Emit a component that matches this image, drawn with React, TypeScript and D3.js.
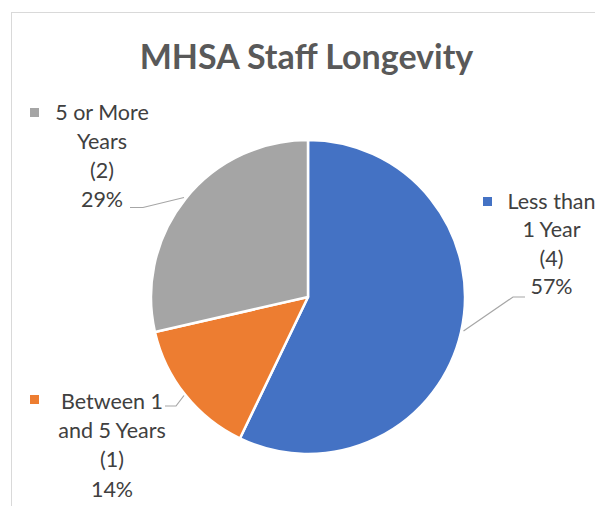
import React from "react";
import * as d3 from "d3";

const categories = ["Less than 1 Year", "Between 1 and 5 Years", "5 or More Years"];
const values = [4, 1, 2];
const labelLines = [["Less than", "1 Year"], ["Between 1", "and 5 Years"], ["5 or More", "Years"]];
const colors = ["#4472C4", "#ED7D31", "#A5A5A5"];
const title = "MHSA Staff Longevity";

const W = 595, H = 506;
const cx = 308, cy = 297, R = 157;
// label layout: center x, first baseline y, line height, marker box, leader points
const labelLayout = [
  { x: 551.5, y: 209, lh: 28.4, mx: 483, my: 197, leader: [[525, 297], [513, 297], [463.5, 331]] },
  { x: 112, y: 408.5, lh: 29.4, mx: 30, my: 395, leader: [[165, 406], [176, 406], [184, 395.5]] },
  { x: 102, y: 120, lh: 29, mx: 30, my: 108, leader: [[130, 207.5], [143, 207.5], [184, 197.5]] },
];

export default function App() {
  const total = d3.sum(values);
  const pie = d3.pie<number>().sort(null).value((d) => d);
  const arcs = pie(values);
  const arc = d3.arc<d3.PieArcDatum<number>>().innerRadius(0).outerRadius(R);
  const fmt = d3.format(".0%");
  const font = "Lato, 'Open Sans', sans-serif";
  return (
    <svg width={W} height={H} style={{ position: "absolute", left: 0, top: 0 }} fontFamily={font}>
      <rect x={0} y={0} width={W} height={H} fill="#fff" />
      <rect x={11.5} y={12.5} width={W + 20} height={H + 20} fill="#fff" stroke="#d9d9d9" strokeWidth={1} />
      <text x={306.5} y={69} textAnchor="middle" fontSize={34} fontWeight={700} fill="#595959">
        {title}
      </text>
      <g transform={`translate(${cx},${cy})`}>
        {arcs.map((a, i) => (
          <path key={categories[i]} d={arc(a) || ""} fill={colors[i]} stroke="#fff" strokeWidth={2.5} strokeLinejoin="round" />
        ))}
      </g>
      {arcs.map((a, i) => {
        const L = labelLayout[i];
        const lines = [...labelLines[i], `(${values[i]})`, fmt(values[i] / total)];
        return (
          <g key={"l" + i}>
            <polyline points={L.leader.map((p) => p.join(",")).join(" ")} fill="none" stroke="#a6a6a6" strokeWidth={1.2} />
            <rect x={L.mx} y={L.my} width={9} height={9} fill={colors[i]} />
            {lines.map((t, j) => (
              <text key={j} x={L.x} y={L.y + j * L.lh} textAnchor="middle" fontSize={21.5} fill="#404040">
                {t}
              </text>
            ))}
          </g>
        );
      })}
    </svg>
  );
}
